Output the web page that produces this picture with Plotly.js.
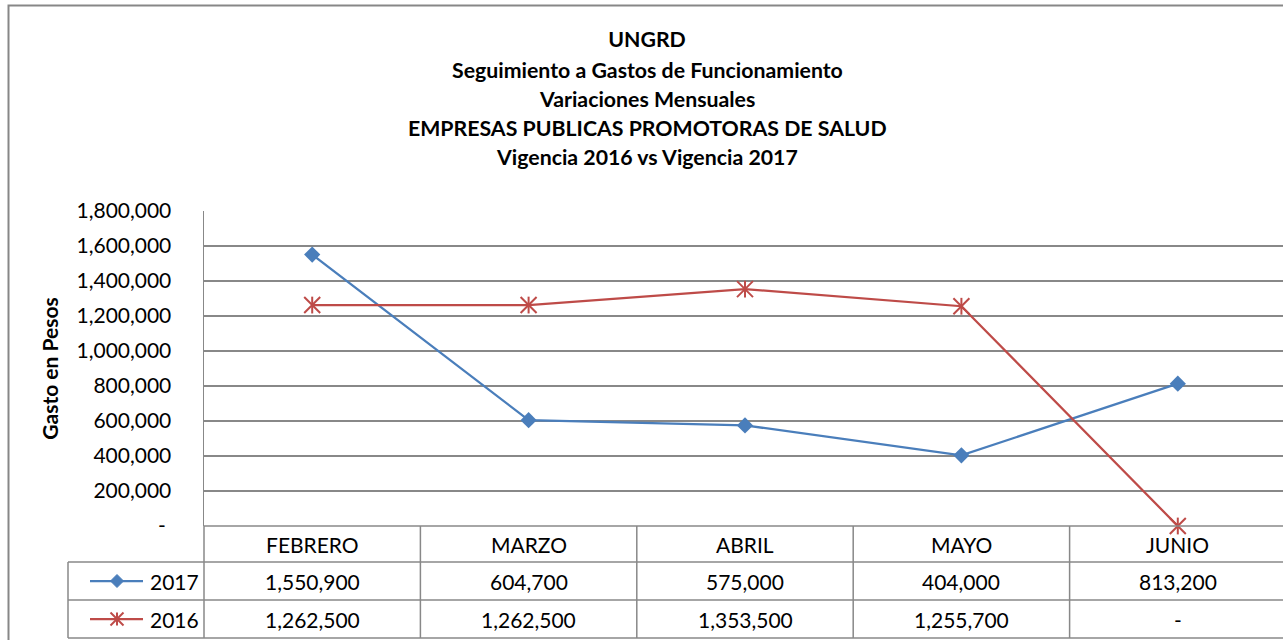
<!DOCTYPE html>
<html>
<head>
<meta charset="utf-8">
<script src="https://cdn.plot.ly/plotly-3.0.1.min.js"></script>
<style>
html,body{margin:0;padding:0;overflow:hidden;background:#fff;}
#chart{width:1290px;height:640px;}
</style>
</head>
<body>
<div id="chart"></div>
<script>
// ---- data ----
var categories = ["FEBRERO", "MARZO", "ABRIL", "MAYO", "JUNIO"];
var series2017 = [1550900, 604700, 575000, 404000, 813200];
var series2016 = [1262500, 1262500, 1353500, 1255700, 0];
var seriesNames = ["2017", "2016"];
var titleLines = [
  "UNGRD",
  "Seguimiento a Gastos de Funcionamiento",
  "Variaciones Mensuales",
  "EMPRESAS PUBLICAS PROMOTORAS DE SALUD",
  "Vigencia 2016 vs Vigencia 2017"
];
var yTickVals = [0, 200000, 400000, 600000, 800000, 1000000, 1200000, 1400000, 1600000, 1800000];
var yAxisTitle = "Gasto en Pesos";

// ---- helpers ----
var FONT = "Lato, 'Open Sans', sans-serif";
var BLUE = "#4A7EBB", RED = "#BE4B48", GRID = "#888888";
var W = 1290, H = 640;
var PL = 204, PR = 1286, PT = 211, PB = 526;
var TXT = 21, TTL = 21.3;
function px(x){ return (x - PL) / (PR - PL); }
function py(y){ return (PB - y) / (PB - PT); }
function fmt(v){ return v === 0 ? "-" : v.toLocaleString("en-US"); }

var yTickText = yTickVals.map(function(v){ return v === 0 ? "-\u00a0" : v.toLocaleString("en-US"); });

var traces = [
  {x: categories, y: series2017, name: seriesNames[0], type: "scatter", mode: "lines+markers", cliponaxis: false,
   line: {color: BLUE, width: 2.25}, marker: {symbol: "diamond", size: 12.5, color: BLUE}},
  {x: categories, y: series2016, name: seriesNames[1], type: "scatter", mode: "lines+markers", cliponaxis: false,
   line: {color: RED, width: 2.25}, marker: {symbol: "x-thin-open", size: 16, color: RED, line: {color: RED, width: 2}}},
  {x: categories, y: series2016, name: seriesNames[1], type: "scatter", mode: "markers", showlegend: false, cliponaxis: false,
   hoverinfo: "skip", marker: {symbol: "line-ns-open", size: 12, color: RED, line: {color: RED, width: 2}}}
];

var shapes = [];
var annotations = [];
function hline(y, x0, x1){ shapes.push({type:"line", xref:"paper", yref:"paper", x0:px(x0), x1:px(x1), y0:py(y), y1:py(y), line:{color:GRID, width:1.5}}); }
// outer chart border
shapes.push({type:"rect", xref:"paper", yref:"paper", x0:px(8.5), x1:px(1320), y0:py(5.5), y1:py(700), line:{color:"#878787", width:2}, layer:"below"});
// table
hline(526, 204, 1300);
hline(562, 68, 1300);
hline(600, 68, 1300);
hline(638, 68, 1300);
shapes.push({type:"line", xref:"paper", yref:"paper", x0:px(68), x1:px(68), y0:py(562), y1:py(638), line:{color:GRID, width:1.5}});
shapes.push({type:"line", xref:"paper", yref:"paper", x0:0, x1:0, y0:py(526), y1:py(638), line:{color:GRID, width:1.5}});
for (var i = 0; i < categories.length - 1; i++) {
  shapes.push({type:"line", xref:"x", yref:"paper", x0:i+0.5, x1:i+0.5, y0:py(526), y1:py(638), line:{color:GRID, width:1.5}});
}
// legend keys in table
var rowsY = [581, 619];
var rowColors = [BLUE, RED];
rowsY.forEach(function(ry, k){
  shapes.push({type:"line", xref:"paper", yref:"paper", x0:px(90), x1:px(143), y0:py(ry), y1:py(ry), line:{color:rowColors[k], width:2.25}});
  annotations.push({xref:"paper", yref:"paper", x:px(148), y:py(ry), xanchor:"left", yanchor:"middle", showarrow:false,
    text:seriesNames[k], font:{family:FONT, size:TXT, color:"#000"}});
});
// diamond glyph
var cx = 117, cy = 581, d = 6.5;
shapes.push({type:"path", xref:"paper", yref:"paper", fillcolor:BLUE, line:{color:BLUE, width:1},
  path:"M"+px(cx)+","+py(cy-d)+" L"+px(cx+d)+","+py(cy)+" L"+px(cx)+","+py(cy+d)+" L"+px(cx-d)+","+py(cy)+" Z"});
// star glyph
var sx = 117, sy = 619, s = 6.5;
[[ -s,-s, s, s],[ -s, s, s,-s],[0,-s,0,s]].forEach(function(a){
  shapes.push({type:"line", xref:"paper", yref:"paper", x0:px(sx+a[0]), y0:py(sy+a[1]), x1:px(sx+a[2]), y1:py(sy+a[3]), line:{color:RED, width:2}});
});
// table text
categories.forEach(function(c, i){
  annotations.push({xref:"x", yref:"paper", x:c, y:py(544), yanchor:"middle", showarrow:false, text:c, font:{family:FONT, size:TXT, color:"#000"}});
  annotations.push({xref:"x", yref:"paper", x:c, y:py(581), yanchor:"middle", showarrow:false, text:fmt(series2017[i]), font:{family:FONT, size:TXT, color:"#000"}});
  annotations.push({xref:"x", yref:"paper", x:c, y:py(619), yanchor:"middle", showarrow:false, text:fmt(series2016[i]), font:{family:FONT, size:TXT, color:"#000"}});
});
// title lines (after the first)
var titleY = [40, 70, 99, 128, 157];
for (var t = 1; t < titleLines.length; t++) {
  annotations.push({xref:"paper", yref:"paper", x:px(647), y:py(titleY[t]), yanchor:"middle", showarrow:false,
    text:"<b>"+titleLines[t]+"</b>", font:{family:FONT, size:TTL, color:"#000"}});
}

var layout = {
  width: W, height: H, autosize: false,
  paper_bgcolor: "#fff", plot_bgcolor: "#fff",
  margin: {l: PL, r: W - PR, t: PT, b: H - PB, pad: 0},
  showlegend: false,
  title: {text: "<b>"+titleLines[0]+"</b>", x: 647/W, xanchor: "center", xref: "container",
          y: 1 - 40/H, yanchor: "middle", yref: "container", font: {family: FONT, size: TTL, color: "#000"}},
  xaxis: {type: "category", range: [-0.5, 4.5], showticklabels: false, showgrid: false, zeroline: false,
          showline: false, ticks: "", fixedrange: true},
  yaxis: {range: [0, 1800000], tickvals: yTickVals, ticktext: yTickText, showgrid: true, gridcolor: GRID, gridwidth: 1.5,
          zeroline: false, showline: true, linecolor: GRID, linewidth: 1.5, ticks: "", ticklabelstandoff: 27,
          tickfont: {family: FONT, size: TXT, color: "#000"},
          title: {text: "<b>"+yAxisTitle+"</b>", font: {family: FONT, size: TXT, color: "#000"}, standoff: 12}},
  shapes: shapes,
  annotations: annotations,
  font: {family: FONT}
};

Plotly.newPlot("chart", traces, layout, {displayModeBar: false, staticPlot: true});
</script>
</body>
</html>
